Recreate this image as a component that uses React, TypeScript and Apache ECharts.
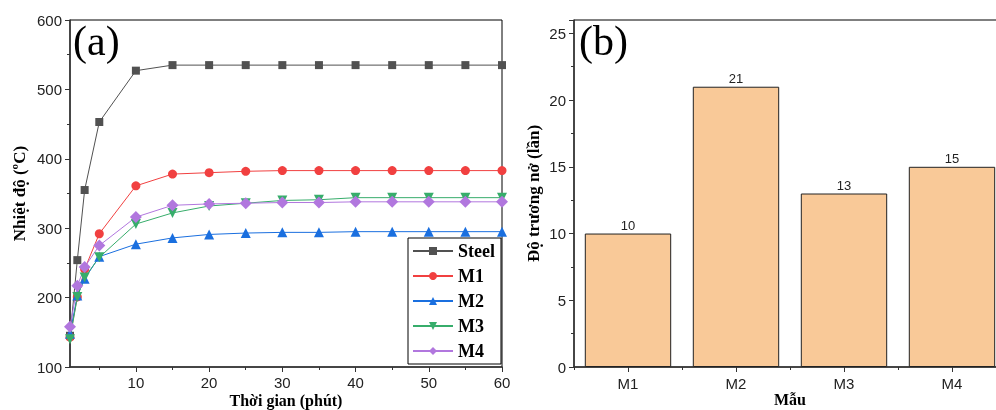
import React, { useEffect, useRef } from "react";
import * as echarts from "echarts";

// Panel (a): temperature vs time
const timeMinutes = [1, 2, 3, 5, 10, 15, 20, 25, 30, 35, 40, 45, 50, 55, 60];
const steelTemp = [145, 254, 355, 453, 527, 535, 535, 535, 535, 535, 535, 535, 535, 535, 535];
const m1Temp = [143, 201, 241, 292, 361, 378, 380, 382, 383, 383, 383, 383, 383, 383, 383];
const m2Temp = [148, 203, 227, 259, 277, 286, 291, 293, 294, 294, 295, 295, 295, 295, 295];
const m3Temp = [140, 201, 229, 258, 306, 322, 332, 336, 340, 341, 344, 344, 344, 344, 344];
const m4Temp = [158, 217, 244, 275, 316, 333, 335, 336, 337, 337, 338, 338, 338, 338, 338];
const timeMajorTicks = [10, 20, 30, 40, 50, 60];
const timeMinorTicks = [5, 15, 25, 35, 45, 55];

// Panel (b): expansion ratio per sample
const samples = ["M1", "M2", "M3", "M4"];
const expansion = [10, 21, 13, 15];

const SANS = "'Liberation Sans', Arial, sans-serif";
const SERIF = "'Liberation Serif', 'Times New Roman', serif";

const pairs = (ys: number[]) => timeMinutes.map((x, i) => [x, ys[i]]);

export default function App() {
  const ref = useRef<HTMLDivElement>(null);
  useEffect(() => {
    const chart = echarts.init(ref.current!, null, { renderer: "svg" });
    const axisLine = { show: true, lineStyle: { color: "#333", width: 1.5 } };
    const tickStyle = { color: "#333", width: 1 };
    const labelStyle = { fontFamily: SANS, fontSize: 15, color: "#222" };
    const titleStyle = { fontFamily: SERIF, fontSize: 17, fontWeight: "bold", color: "#000" };
    const xTitleStyle = { ...titleStyle, fontSize: 16 };
    const lineSeries = (name: string, data: number[], color: string, symbol: string, size: number, rotate = 0) => ({
      type: "line",
      name,
      xAxisIndex: 0,
      yAxisIndex: 0,
      data: pairs(data),
      symbol,
      symbolSize: size,
      symbolRotate: rotate,
      showAllSymbol: true,
      lineStyle: { color, width: 1 },
      itemStyle: { color },
    });
    chart.setOption({
      animation: false,
      grid: [
        { left: 70, top: 20, width: 432, height: 347, show: true, borderColor: "#000", borderWidth: 1, outerBoundsMode: "none", containLabel: false },
        { left: 574, top: 20, width: 432, height: 347, show: true, borderColor: "#000", borderWidth: 1, outerBoundsMode: "none", containLabel: false },
      ],
      xAxis: [
        {
          gridIndex: 0,
          type: "value",
          position: "bottom",
          min: 1,
          max: 60,
          axisLine,
          axisTick: { show: true, customValues: timeMajorTicks, length: 5, lineStyle: tickStyle },
          axisLabel: { ...labelStyle, customValues: timeMajorTicks, margin: 8 },
          splitLine: { show: false },
          name: "Thời gian (phút)",
          nameLocation: "middle",
          nameGap: 25,
          nameMoveOverlap: false,
          nameTextStyle: xTitleStyle,
        },
        {
          gridIndex: 0,
          type: "value",
          position: "bottom",
          min: 1,
          max: 60,
          axisLine: { show: false },
          axisTick: { show: true, customValues: timeMinorTicks, length: 3, lineStyle: tickStyle },
          axisLabel: { show: false },
          splitLine: { show: false },
        },
        {
          gridIndex: 1,
          type: "category",
          position: "bottom",
          data: samples,
          axisLine,
          axisTick: { show: true, alignWithLabel: true, length: 5, lineStyle: tickStyle },
          axisLabel: { ...labelStyle, margin: 9 },
          name: "Mẫu",
          nameLocation: "middle",
          nameGap: 24,
          nameMoveOverlap: false,
          nameTextStyle: xTitleStyle,
        },
        {
          gridIndex: 1,
          type: "category",
          position: "bottom",
          data: samples,
          axisLine: { show: false },
          axisTick: { show: true, length: 3, lineStyle: tickStyle },
          axisLabel: { show: false },
        },
      ],
      yAxis: [
        {
          gridIndex: 0,
          type: "value",
          min: 100,
          max: 600,
          interval: 100,
          axisLine,
          axisTick: { show: true, length: 5, lineStyle: tickStyle },
          minorTick: { show: true, splitNumber: 2, length: 3, lineStyle: tickStyle },
          axisLabel: { ...labelStyle, margin: 8 },
          splitLine: { show: false },
          minorSplitLine: { show: false },
          name: "Nhiệt độ (ºC)",
          nameLocation: "middle",
          nameGap: 42,
          nameRotate: 90,
          nameTextStyle: titleStyle,
        },
        {
          gridIndex: 1,
          type: "value",
          min: 0,
          max: 26,
          interval: 5,
          axisLine,
          axisTick: { show: true, length: 5, lineStyle: tickStyle },
          minorTick: { show: true, splitNumber: 2, length: 3, lineStyle: tickStyle },
          axisLabel: { ...labelStyle, margin: 8, showMaxLabel: false },
          splitLine: { show: false },
          minorSplitLine: { show: false },
          name: "Độ trương nở (lần)",
          nameLocation: "middle",
          nameGap: 32,
          nameRotate: 90,
          nameTextStyle: titleStyle,
        },
      ],
      legend: {
        orient: "vertical",
        left: 408,
        top: 238,
        itemWidth: 40,
        itemHeight: 10,
        itemGap: 7,
        padding: [4, 6, 4, 4],
        borderColor: "#000",
        borderWidth: 1,
        backgroundColor: "#fff",
        data: ["Steel", "M1", "M2", "M3", "M4"],
        textStyle: { fontFamily: SERIF, fontSize: 18, fontWeight: "bold", color: "#000" },
      },
      graphic: [
        { type: "text", left: 73, top: 20, style: { text: "(a)", fontFamily: SERIF, fontSize: 42, fill: "#000" } },
        { type: "text", left: 579, top: 20, style: { text: "(b)", fontFamily: SERIF, fontSize: 42, fill: "#000" } },
      ],
      series: [
        lineSeries("Steel", steelTemp, "#515151", "rect", 8),
        lineSeries("M1", m1Temp, "#F14040", "circle", 9),
        lineSeries("M2", m2Temp, "#1A6FDF", "triangle", 10),
        lineSeries("M3", m3Temp, "#37AD6B", "triangle", 10, 180),
        lineSeries("M4", m4Temp, "#B177DE", "diamond", 12),
        {
          type: "bar",
          xAxisIndex: 2,
          yAxisIndex: 1,
          data: expansion,
          barCategoryGap: "20%",
          itemStyle: { color: "#F9C998", borderColor: "#222", borderWidth: 1 },
          label: { show: true, position: "top", distance: 2, fontFamily: SANS, fontSize: 13, color: "#222" },
        },
      ],
    });
    return () => chart.dispose();
  }, []);
  return <div ref={ref} style={{ position: "fixed", left: 0, top: 0, width: 996, height: 410 }} />;
}
